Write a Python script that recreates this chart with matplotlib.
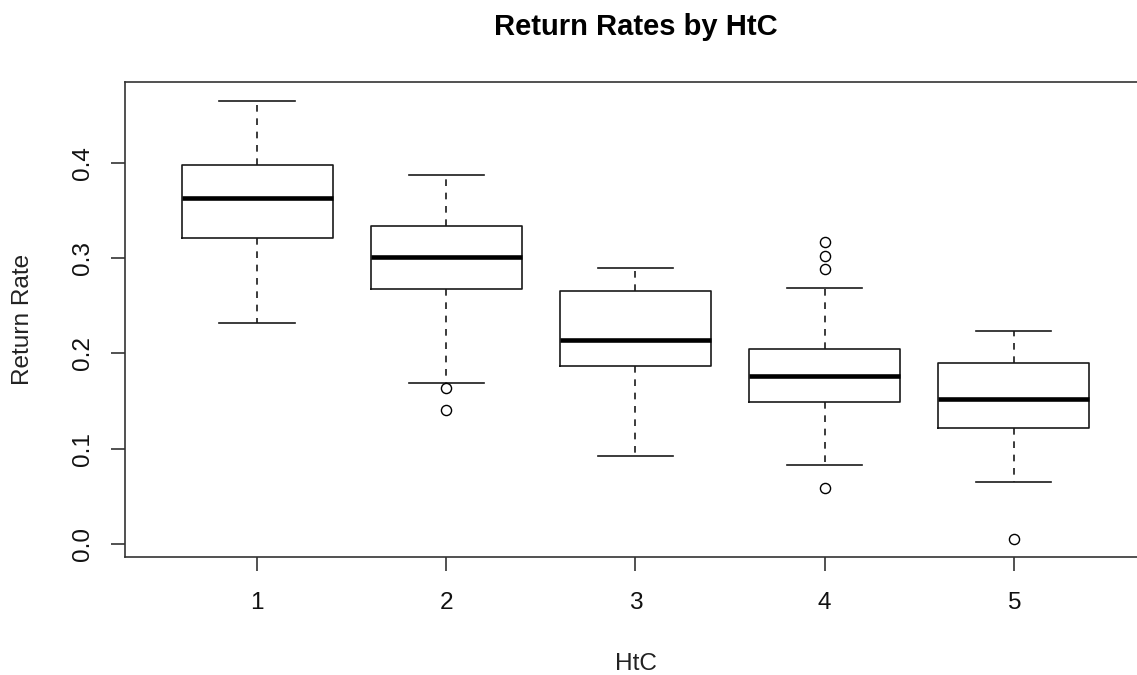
import matplotlib
matplotlib.use("Agg")
from matplotlib import pyplot as plt

plt.rcParams['font.family'] = ['Liberation Sans', 'DejaVu Sans']

# box statistics (HtC groups 1..5)
groups = [1, 2, 3, 4, 5]
whislo = [0.232, 0.169, 0.092, 0.083, 0.065]
q1 = [0.321, 0.268, 0.187, 0.149, 0.122]
med = [0.363, 0.301, 0.214, 0.176, 0.152]
q3 = [0.398, 0.334, 0.265, 0.205, 0.190]
whishi = [0.465, 0.387, 0.290, 0.269, 0.224]
fliers = [[], [0.164, 0.141], [], [0.317, 0.302, 0.289, 0.059], [0.005]]

stats = []
for i in range(len(groups)):
    stats.append(dict(whislo=whislo[i], q1=q1[i], med=med[i], q3=q3[i],
                      whishi=whishi[i], fliers=fliers[i], label=str(groups[i])))

fig = plt.figure(figsize=(11.37, 6.75), dpi=100)
ax = fig.add_axes([0.1099, 0.1748, 0.898, 0.7037])

lw = 1.2
ax.bxp(stats, positions=groups, widths=0.8, capwidths=0.4,
       boxprops=dict(color='#1a1a1a', linewidth=lw),
       medianprops=dict(color='black', linewidth=3.3, solid_capstyle='butt'),
       whiskerprops=dict(color='#1a1a1a', linewidth=lw, linestyle=(0, (4, 4))),
       capprops=dict(color='#1a1a1a', linewidth=lw),
       flierprops=dict(marker='o', markerfacecolor='none', markeredgecolor='black',
                       markersize=7.3, markeredgewidth=1.0))

ax.set_xlim(0.3, 5.7)
ax.set_ylim(-0.0136, 0.4848)
ax.set_xticks(groups)
ax.set_xticklabels([str(g) for g in groups])
ax.set_yticks([0.0, 0.1, 0.2, 0.3, 0.4])
ax.set_yticklabels(['0.0', '0.1', '0.2', '0.3', '0.4'], rotation=90, va='center')

for s in ax.spines.values():
    s.set_linewidth(lw)
    s.set_color('#333333')
ax.tick_params(axis='both', length=10, width=lw, color='#333333', labelsize=17.6, labelcolor='#111111')
ax.tick_params(axis='x', pad=15.5)
ax.tick_params(axis='y', pad=12)

ax.set_title('Return Rates by HtC', fontsize=21, fontweight='bold', pad=34)
ax.set_xlabel('HtC', fontsize=17.6, color='#222222')
ax.xaxis.set_label_coords((635.5 - 125) / 1021, -0.203)
ax.set_ylabel('Return Rate', fontsize=17.6, color='#222222')
ax.yaxis.set_label_coords(-0.089, 0.5)

fig.savefig('out.png', dpi=100)
